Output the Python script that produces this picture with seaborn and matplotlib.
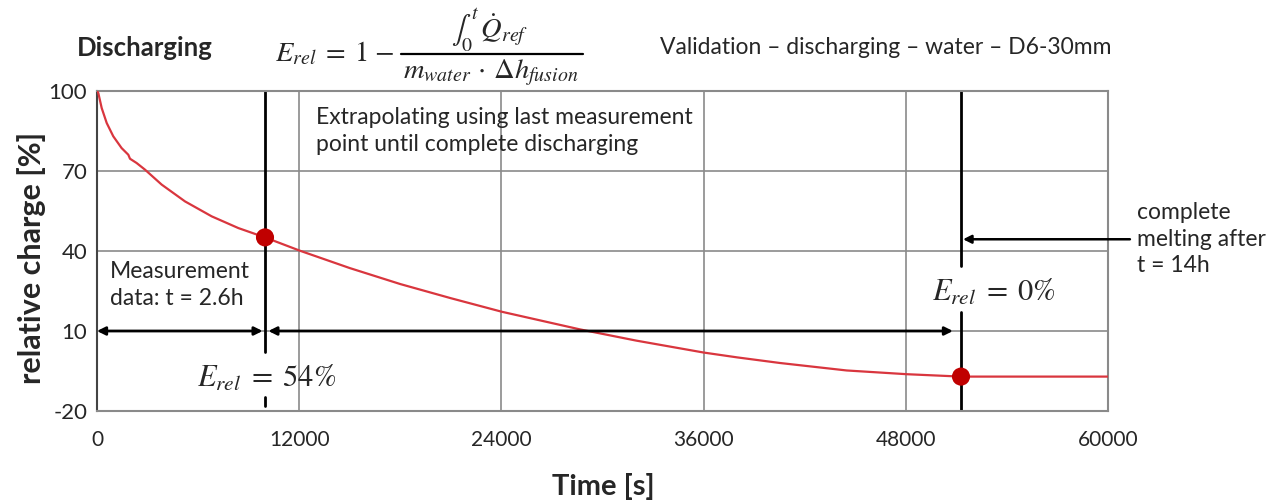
import matplotlib
matplotlib.use("Agg")
import matplotlib.pyplot as plt
from matplotlib.lines import Line2D
import seaborn as sns
import pandas as pd

# ---- data ----
time_s = [0, 79, 279, 576, 967, 1460, 1858, 1958, 2350, 2849, 3837, 5223, 6805,
          8388, 9970, 12046, 15000, 18000, 21000, 24036, 28665, 32000, 36024,
          38000, 40534, 44490, 48052, 51276, 60000]
rel_charge = [100, 99.2, 93.6, 88.0, 83.0, 78.6, 76.1, 74.6, 73.0, 70.5, 64.9,
              58.6, 53.0, 48.6, 45.1, 40.1, 33.6, 27.6, 22.3, 17.2, 10.6, 6.4,
              1.9, 0.1, -2.0, -4.8, -6.2, -7.1, -7.1]
marker_time = [9970, 51276]
marker_charge = [45.1, -7.1]
x_ticks = [0, 12000, 24000, 36000, 48000, 60000]
y_ticks = [-20, 10, 40, 70, 100]

df = pd.DataFrame({"t": time_s, "E": rel_charge})
dm = pd.DataFrame({"t": marker_time, "E": marker_charge})

sns.set_style("white")
plt.rcParams["font.family"] = ["Lato", "DejaVu Sans"]
plt.rcParams["mathtext.fontset"] = "stix"

W, H = 1280, 500
fig = plt.figure(figsize=(12.8, 5), dpi=100)
ax = fig.add_axes([97 / W, 89 / H, 1011 / W, 320 / H])

def fx(px):
    return px / W

def fy(py):
    return 1 - py / H

ax.set_xlim(0, 60000)
ax.set_ylim(-20, 100)
ax.set_xticks(x_ticks)
ax.set_yticks(y_ticks)
ax.set_xticklabels([str(v) for v in x_ticks], fontsize=15)
ax.set_yticklabels([str(v) for v in y_ticks], fontsize=16)
ax.grid(True, color="#8a8a8a", lw=1.2)
ax.set_axisbelow(True)
for s in ["top", "right", "bottom"]:
    ax.spines[s].set_color("#8a8a8a")
    ax.spines[s].set_linewidth(1.5)
ax.spines["left"].set_color("#444444")
ax.spines["left"].set_linewidth(1.5)
ax.tick_params(axis="y", length=4, color="#444444", pad=3)
ax.tick_params(axis="x", length=0, pad=14)

# vertical marker lines
t_meas, t_end = marker_time
ax.plot([t_meas, t_meas], [100, 2.1], color="black", lw=2)
ax.plot([t_meas, t_meas], [-14.8, -18.2], color="black", lw=2)
ax.plot([t_end, t_end], [100, 34.4], color="black", lw=2)
ax.plot([t_end, t_end], [17.1, -20], color="black", lw=2)

# curve and markers
sns.lineplot(data=df, x="t", y="E", ax=ax, color="#d9363e", lw=1.6, zorder=4)
sns.scatterplot(data=dm, x="t", y="E", ax=ax, color="#c00000", s=170,
                edgecolor="none", zorder=5)
ax.set_xlabel("")
ax.set_ylabel("")

# double arrows at 10%
ap = dict(arrowstyle="<|-|>", color="black", lw=2, mutation_scale=12,
          shrinkA=0, shrinkB=0)
ax.annotate("", xy=(0, 10), xytext=(9830, 10), arrowprops=ap, zorder=6)
ax.annotate("", xy=(10170, 10), xytext=(50800, 10), arrowprops=ap, zorder=6)

# arrow from the right-hand note
ax.annotate("", xy=(t_end + 120, 44.4), xytext=(61300, 44.4),
            arrowprops=dict(arrowstyle="-|>", color="black", lw=1.8,
                            mutation_scale=12, shrinkA=0, shrinkB=0),
            annotation_clip=False, zorder=6)

body = 16.5
# texts inside
fig.text(fx(316), fy(131), "Extrapolating using last measurement\npoint until complete discharging",
         fontsize=body, va="center", ha="left", linespacing=1.3)
fig.text(fx(110), fy(285), "Measurement\ndata: t = 2.6h",
         fontsize=body, va="center", ha="left", linespacing=1.3)
fig.text(fx(267), fy(378), r"$E_{rel}\;=\;54\%$", fontsize=22, va="center", ha="center")
fig.text(fx(994), fy(292), r"$E_{rel}\;=\;0\%$", fontsize=22, va="center", ha="center")
fig.text(fx(1137), fy(239), "complete\nmelting after\nt = 14h",
         fontsize=body, va="center", ha="left", linespacing=1.3)

# header texts
fig.text(fx(77), fy(48), "Discharging", fontsize=18.5, fontweight="bold",
         va="center", ha="left")
fig.text(fx(660), fy(47), "Validation \u2013 discharging \u2013 water \u2013 D6-30mm",
         fontsize=body, va="center", ha="left")

# formula built as numerator / bar / denominator
fig.text(fx(275), fy(61), r"$E_{rel}\;=\;1\;{-}$", fontsize=20.5, va="baseline", ha="left")
fig.text(fx(490), fy(31), r"$\int_0^t\,\dot{Q}_{ref}$", fontsize=20.5, va="center", ha="center")
fig.text(fx(491), fy(73), r"$m_{water}\,\cdot\,\Delta h_{fusion}$", fontsize=20.5,
         va="center", ha="center")
fig.add_artist(Line2D([fx(401), fx(583)], [fy(54), fy(54)], color="black", lw=1.6))

# axis labels
fig.text(fx(603), fy(487), "Time [s]", fontsize=21, fontweight="bold",
         va="center", ha="center")
fig.text(fx(32), fy(258), "relative charge [%]", fontsize=22,
         fontweight="bold", va="center", ha="center", rotation=90)

fig.savefig("out.png", dpi=100)
